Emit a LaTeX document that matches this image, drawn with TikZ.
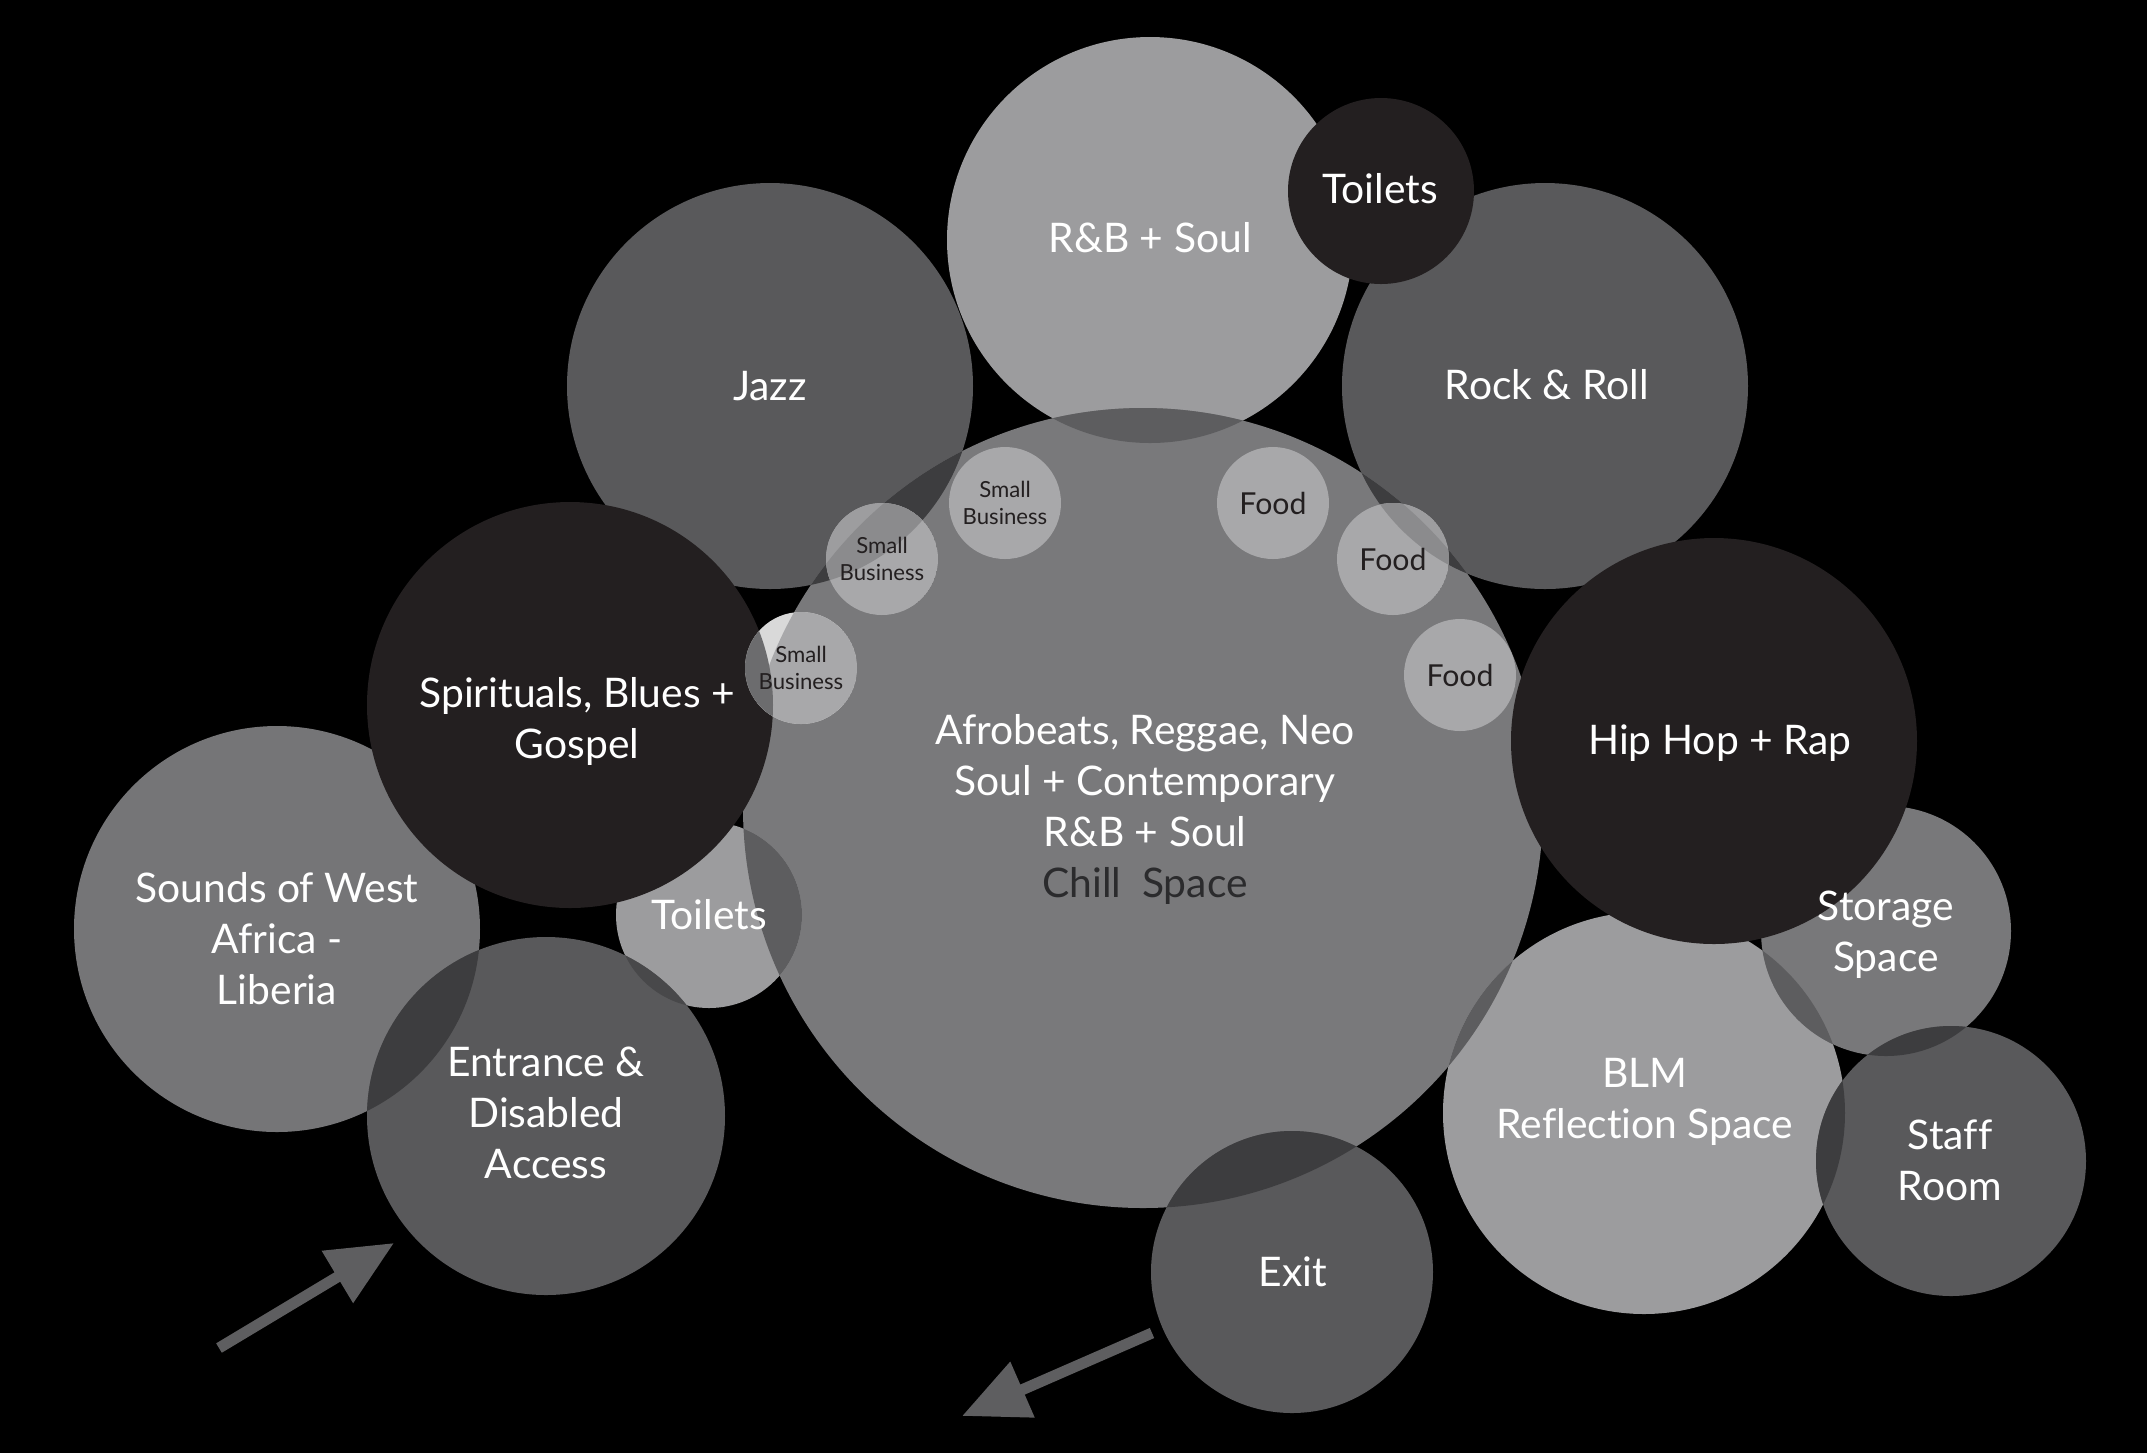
\documentclass[tikz,border=0pt]{standalone}
\usepackage{fontspec}
\setmainfont{Lato}[Ligatures={NoCommon}]
\usetikzlibrary{arrows.meta}
\definecolor{lightg}{HTML}{9C9C9E}
\definecolor{centerg}{HTML}{79797B}
\definecolor{soundsg}{HTML}{757577}
\definecolor{storeg}{HTML}{78787A}
\definecolor{darkg}{HTML}{59595B}
\definecolor{blackc}{HTML}{231F20}
\definecolor{smallg}{HTML}{A8A8AA}
\definecolor{smalldk}{HTML}{8B8B8D}
\definecolor{smallmd}{HTML}{9D9D9F}
\definecolor{smallsp}{HTML}{6C6C6E}
\definecolor{smalllt}{HTML}{D9D9D9}
\definecolor{ovA}{HTML}{5D5D5F}
\definecolor{ovB}{HTML}{3D3D3F}
\definecolor{ovC}{HTML}{48484A}
\definecolor{arrowg}{HTML}{5E5E60}
\definecolor{chillc}{HTML}{2B2B2D}
\tikzset{
  lbl/.style={text=white, align=center, inner sep=0pt, font=\fontsize{11.6}{14.5}\selectfont},
  smlbl/.style={text=blackc, align=center, inner sep=0pt, font=\fontsize{6.3}{7.9}\selectfont},
  foodlbl/.style={text=blackc, align=center, inner sep=0pt, font=\fontsize{8.6}{10}\selectfont},
  flowarrow/.style={draw=arrowg, line width=0.11cm, line cap=butt, -{Triangle[length=0.66cm,width=0.58cm]}}
}
\begin{document}
\begin{tikzpicture}[x=0.01cm,y=0.01cm]
\useasboundingbox (0,0) rectangle (2147,-1453);
\fill[black] (0,0) rectangle (2147,-1453);
% centres
\coordinate (cRB) at (1150,-240);
\coordinate (cTT) at (1381,-191);
\coordinate (cJZ) at (770,-386);
\coordinate (cRR) at (1545,-386);
\coordinate (cCE) at (1143,-808);
\coordinate (cSP) at (570,-705);
\coordinate (cHH) at (1714,-741);
\coordinate (cSW) at (277,-929);
\coordinate (cTL) at (709,-915);
\coordinate (cEN) at (546,-1116);
\coordinate (cEX) at (1292,-1272);
\coordinate (cBL) at (1644,-1113);
\coordinate (cST) at (1886,-931);
\coordinate (cSF) at (1951,-1161);
\coordinate (cSBa) at (1005,-503);
\coordinate (cSBb) at (882,-559);
\coordinate (cSBc) at (801,-668);
\coordinate (cFa) at (1273,-503);
\coordinate (cFb) at (1393,-559);
\coordinate (cFc) at (1460,-675);
% circle paths
\def\RB{(cRB) circle[radius=203]}
\def\TT{(cTT) circle[radius=93]}
\def\JZ{(cJZ) circle[radius=203]}
\def\RR{(cRR) circle[radius=203]}
\def\CE{(cCE) circle[radius=400]}
\def\SP{(cSP) circle[radius=203]}
\def\HH{(cHH) circle[radius=203]}
\def\SW{(cSW) circle[radius=203]}
\def\TL{(cTL) circle[radius=93]}
\def\EN{(cEN) circle[radius=179]}
\def\EX{(cEX) circle[radius=141]}
\def\BL{(cBL) circle[radius=201]}
\def\ST{(cST) circle[radius=125]}
\def\SF{(cSF) circle[radius=135]}
% base circles
\fill[lightg] \RB;
\fill[darkg] \JZ;
\fill[darkg] \RR;
\fill[centerg] \CE;
\fill[soundsg] \SW;
\fill[lightg] \TL;
\fill[darkg] \EN;
\fill[darkg] \EX;
\fill[lightg] \BL;
\fill[storeg] \ST;
\fill[darkg] \SF;
% overlaps
\begin{scope}\clip \RB; \fill[ovA] \CE; \end{scope}
\begin{scope}\clip \JZ; \fill[ovB] \CE; \end{scope}
\begin{scope}\clip \RR; \fill[ovB] \CE; \end{scope}
\begin{scope}\clip \SW; \fill[ovB] \EN; \end{scope}
\begin{scope}\clip \TL; \fill[ovC] \EN; \end{scope}
\begin{scope}\clip \TL; \fill[ovA] \CE; \end{scope}
\begin{scope}\clip \EX; \fill[ovB] \CE; \end{scope}
\begin{scope}\clip \BL; \fill[ovA] \CE; \end{scope}
\begin{scope}\clip \BL; \fill[ovA] \ST; \end{scope}
\begin{scope}\clip \ST; \fill[ovB] \SF; \end{scope}
\begin{scope}\clip \BL; \fill[ovB] \SF; \end{scope}
% dark circles
\fill[blackc] \TT;
\fill[blackc] \SP;
\fill[blackc] \HH;
% small business circles
\fill[smallg] (cSBa) circle[radius=56];
\begin{scope}
  \clip (cSBb) circle[radius=56];
  \fill[smallg] (cSBb) circle[radius=56];
  \fill[smallmd] \JZ;
  \begin{scope}\clip \JZ; \fill[smalldk] \CE; \end{scope}
\end{scope}
\begin{scope}
  \clip (cSBc) circle[radius=56];
  \fill[smalllt] (cSBc) circle[radius=56];
  \fill[smallg] \CE;
  \fill[smallsp] \SP;
\end{scope}
% food circles
\fill[smallg] (cFa) circle[radius=56];
\begin{scope}
  \clip (cFb) circle[radius=56];
  \fill[smallg] (cFb) circle[radius=56];
  \fill[smallmd] \RR;
  \begin{scope}\clip \RR; \fill[smalldk] \CE; \end{scope}
\end{scope}
\fill[smallg] (cFc) circle[radius=56];
% labels
\node[lbl] (lRB) at (1150,-238) {R\&B + Soul};
\node[lbl] (lTT) at (1380,-189) {Toilets};
\node[lbl] (lJZ) at (770,-386) {Jazz};
\node[lbl] (lRR) at (1547,-385) {Rock \& Roll};
\node[lbl] (lSP) at (577,-721) {Spirituals, Blues +\\Gospel};
\node[lbl] (lCE) at (1145,-809) {Afrobeats, Reggae, Neo\\Soul + Contemporary\\R\&B + Soul\\\textcolor{chillc}{Chill\ \ Space}};
\node[lbl] (lHH) at (1720,-743) {Hip Hop + Rap};
\node[lbl] (lSW) at (277,-939) {Sounds of West\\Africa -\\Liberia};
\node[lbl] (lTL) at (709,-915) {Toilets};
\node[lbl] (lEN) at (546,-1113) {Entrance \&\\Disabled\\Access};
\node[lbl] (lEX) at (1293,-1272) {Exit};
\node[lbl] (lBL) at (1645,-1102) {BLM\\Reflection Space};
\node[lbl] (lST) at (1886,-935) {Storage\\Space};
\node[lbl] (lSF) at (1950,-1160) {Staff\\Room};
\node[smlbl] (lSBa) at (cSBa) {Small\\Business};
\node[smlbl] (lSBb) at (cSBb) {Small\\Business};
\node[smlbl] (lSBc) at (cSBc) {Small\\Business};
\node[foodlbl] (lFa) at (cFa) {Food};
\node[foodlbl] (lFb) at (cFb) {Food};
\node[foodlbl] (lFc) at (cFc) {Food};
% arrows
\coordinate (inTail) at (219,-1348);
\coordinate (inTip) at (394,-1243);
\coordinate (outTail) at (1152,-1333);
\coordinate (outTip) at (962,-1416);
\draw[flowarrow] (inTail) -- (inTip);
\draw[flowarrow] (outTail) -- (outTip);
\end{tikzpicture}
\end{document}
